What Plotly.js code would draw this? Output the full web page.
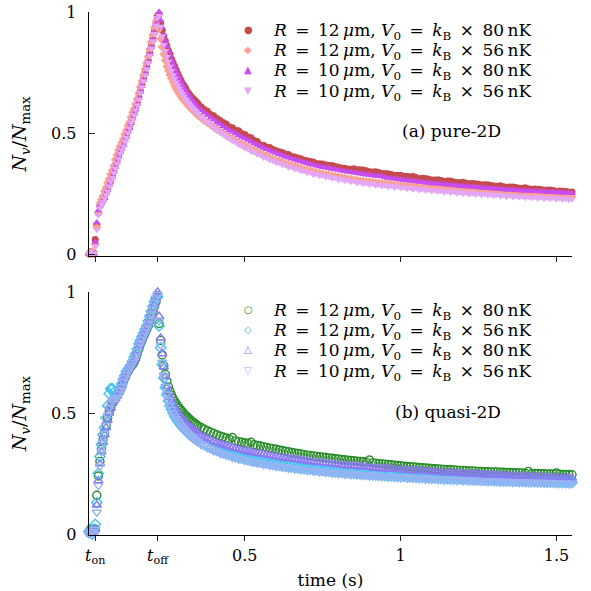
<!DOCTYPE html>
<html>
<head>
<meta charset="utf-8">
<script src="https://cdn.plot.ly/plotly-3.0.1.min.js"></script>
<style>
  html, body { margin: 0; padding: 0; background: #fff; }
  #chart { width: 591px; height: 591px; }
</style>
</head>
<body>
<div id="chart"></div>
<script>
// Sampling times (s), shared by every series
const timeS = [
  0,0.005,0.01,0.015,0.02,0.025,0.03,0.035,0.04,0.045,
  0.05,0.055,0.06,0.065,0.07,0.075,0.08,0.085,0.09,0.095,
  0.1,0.105,0.11,0.115,0.12,0.125,0.13,0.135,0.14,0.145,
  0.15,0.155,0.16,0.165,0.17,0.175,0.18,0.185,0.19,0.195,
  0.2,0.205,0.21,0.215,0.22,0.225,0.23,0.235,0.24,0.245,
  0.25,0.255,0.26,0.265,0.27,0.275,0.28,0.285,0.29,0.295,
  0.3,0.305,0.31,0.315,0.32,0.325,0.33,0.335,0.34,0.345,
  0.35,0.36,0.37,0.38,0.39,0.4,0.41,0.42,0.43,0.44,
  0.45,0.46,0.47,0.48,0.49,0.5,0.51,0.52,0.53,0.54,
  0.55,0.56,0.57,0.58,0.59,0.6,0.61,0.62,0.63,0.64,
  0.65,0.66,0.67,0.68,0.69,0.7,0.71,0.72,0.73,0.74,
  0.75,0.76,0.77,0.78,0.79,0.8,0.81,0.82,0.83,0.84,
  0.85,0.86,0.87,0.88,0.89,0.9,0.91,0.92,0.93,0.94,
  0.95,0.96,0.97,0.98,0.99,1,1.01,1.02,1.03,1.04,
  1.05,1.06,1.07,1.08,1.09,1.1,1.11,1.12,1.13,1.14,
  1.15,1.16,1.17,1.18,1.19,1.2,1.21,1.22,1.23,1.24,
  1.25,1.26,1.27,1.28,1.29,1.3,1.31,1.32,1.33,1.34,
  1.35,1.36,1.37,1.38,1.39,1.4,1.41,1.42,1.43,1.44,
  1.45,1.46,1.47,1.48,1.49,1.5,1.51,1.52,1.53,1.54,
  1.55
];

// (a) pure-2D : N_v / N_max
const pureR12V80 = [
  0,0.01,0,0.005,0.06,0.12,0.17,0.2,0.215,0.225,
  0.235,0.255,0.27,0.29,0.305,0.325,0.345,0.37,0.385,0.405,
  0.425,0.44,0.455,0.475,0.49,0.51,0.525,0.545,0.565,0.585,
  0.6,0.625,0.65,0.675,0.7,0.725,0.75,0.775,0.8,0.83,
  0.86,0.89,0.92,0.955,0.985,0.99,0.955,0.925,0.9,0.88,
  0.86,0.84,0.825,0.805,0.79,0.775,0.76,0.745,0.73,0.718,
  0.705,0.695,0.685,0.672,0.663,0.655,0.647,0.641,0.634,0.627,
  0.621,0.609,0.597,0.59,0.577,0.571,0.56,0.553,0.543,0.537,
  0.526,0.522,0.512,0.509,0.498,0.494,0.484,0.481,0.469,0.465,
  0.451,0.45,0.441,0.44,0.432,0.427,0.423,0.42,0.413,0.411,
  0.403,0.401,0.397,0.394,0.388,0.386,0.382,0.38,0.373,0.373,
  0.372,0.368,0.366,0.366,0.362,0.359,0.356,0.355,0.351,0.35,
  0.352,0.348,0.348,0.347,0.344,0.34,0.339,0.34,0.337,0.333,
  0.333,0.332,0.329,0.325,0.326,0.326,0.321,0.32,0.319,0.32,
  0.316,0.311,0.313,0.312,0.309,0.306,0.306,0.307,0.304,0.3,
  0.302,0.302,0.298,0.296,0.295,0.297,0.293,0.29,0.291,0.29,
  0.288,0.285,0.286,0.286,0.283,0.281,0.28,0.282,0.278,0.276,
  0.277,0.277,0.275,0.272,0.272,0.274,0.27,0.268,0.269,0.268,
  0.267,0.264,0.265,0.265,0.263,0.26,0.261,0.26,0.258,0.256,
  0.256
];
const pureR12V56 = [
  0,0,0.01,0,0.04,0.11,0.17,0.21,0.225,0.24,
  0.26,0.275,0.295,0.31,0.33,0.345,0.365,0.39,0.41,0.43,
  0.445,0.46,0.475,0.495,0.51,0.53,0.545,0.565,0.585,0.6,
  0.62,0.64,0.665,0.69,0.715,0.74,0.765,0.79,0.815,0.845,
  0.875,0.905,0.935,0.96,0.97,0.93,0.89,0.855,0.825,0.8,
  0.775,0.757,0.74,0.725,0.71,0.695,0.684,0.673,0.662,0.652,
  0.643,0.635,0.627,0.619,0.612,0.605,0.598,0.592,0.586,0.58,
  0.572,0.562,0.551,0.543,0.533,0.524,0.515,0.507,0.499,0.491,
  0.483,0.475,0.468,0.461,0.453,0.447,0.44,0.434,0.427,0.421,
  0.415,0.409,0.404,0.398,0.393,0.388,0.383,0.379,0.374,0.37,
  0.366,0.362,0.358,0.354,0.35,0.347,0.344,0.34,0.337,0.334,
  0.331,0.328,0.326,0.323,0.321,0.318,0.316,0.314,0.311,0.309,
  0.307,0.305,0.303,0.301,0.299,0.298,0.296,0.294,0.293,0.291,
  0.29,0.288,0.287,0.285,0.284,0.283,0.281,0.28,0.279,0.278,
  0.277,0.275,0.274,0.273,0.272,0.271,0.27,0.269,0.268,0.267,
  0.266,0.265,0.264,0.263,0.262,0.261,0.26,0.259,0.258,0.257,
  0.257,0.256,0.255,0.254,0.253,0.253,0.252,0.251,0.25,0.25,
  0.249,0.248,0.248,0.247,0.246,0.246,0.245,0.244,0.244,0.243,
  0.243,0.242,0.241,0.241,0.24,0.24,0.239,0.238,0.238,0.237,
  0.237
];
const pureR10V80 = [
  0,0,0.005,0,0.05,0.13,0.18,0.2,0.21,0.22,
  0.232,0.25,0.265,0.285,0.3,0.32,0.34,0.36,0.38,0.4,
  0.42,0.435,0.45,0.47,0.485,0.505,0.52,0.54,0.56,0.58,
  0.6,0.62,0.645,0.67,0.695,0.72,0.745,0.77,0.795,0.825,
  0.855,0.885,0.915,0.95,0.98,1,0.965,0.935,0.905,0.88,
  0.86,0.838,0.82,0.8,0.783,0.768,0.752,0.737,0.722,0.71,
  0.697,0.686,0.675,0.664,0.654,0.645,0.637,0.63,0.622,0.615,
  0.608,0.594,0.584,0.574,0.563,0.555,0.545,0.537,0.528,0.52,
  0.512,0.505,0.498,0.491,0.484,0.477,0.471,0.464,0.457,0.451,
  0.445,0.438,0.433,0.427,0.422,0.417,0.412,0.407,0.402,0.398,
  0.394,0.39,0.386,0.382,0.378,0.375,0.371,0.368,0.365,0.362,
  0.359,0.357,0.354,0.351,0.349,0.347,0.344,0.342,0.34,0.338,
  0.336,0.334,0.332,0.33,0.328,0.327,0.325,0.323,0.322,0.32,
  0.316,0.314,0.312,0.311,0.309,0.307,0.306,0.304,0.303,0.301,
  0.3,0.298,0.297,0.295,0.294,0.292,0.291,0.29,0.288,0.287,
  0.286,0.285,0.284,0.282,0.281,0.28,0.279,0.278,0.277,0.276,
  0.275,0.274,0.273,0.272,0.271,0.27,0.269,0.268,0.267,0.266,
  0.266,0.265,0.264,0.263,0.262,0.262,0.261,0.26,0.259,0.259,
  0.258,0.257,0.256,0.256,0.255,0.254,0.254,0.253,0.252,0.252,
  0.251
];
const pureR10V56 = [
  0,0.01,0,0,0.03,0.1,0.16,0.19,0.205,0.215,
  0.23,0.245,0.26,0.28,0.3,0.315,0.335,0.355,0.375,0.395,
  0.415,0.43,0.445,0.465,0.48,0.5,0.52,0.54,0.555,0.575,
  0.595,0.615,0.64,0.665,0.69,0.715,0.74,0.765,0.79,0.82,
  0.85,0.88,0.91,0.945,0.975,0.985,0.94,0.9,0.865,0.84,
  0.815,0.795,0.775,0.757,0.74,0.725,0.71,0.697,0.685,0.673,
  0.662,0.652,0.642,0.632,0.624,0.615,0.607,0.6,0.592,0.585,
  0.578,0.564,0.556,0.543,0.534,0.521,0.514,0.503,0.496,0.485,
  0.479,0.468,0.464,0.452,0.449,0.437,0.436,0.424,0.423,0.411,
  0.41,0.399,0.398,0.389,0.387,0.378,0.377,0.369,0.368,0.359,
  0.36,0.351,0.352,0.343,0.344,0.336,0.337,0.329,0.331,0.324,
  0.326,0.317,0.32,0.312,0.315,0.307,0.31,0.303,0.305,0.299,
  0.302,0.294,0.298,0.29,0.294,0.287,0.29,0.284,0.287,0.281,
  0.285,0.278,0.282,0.275,0.279,0.273,0.276,0.27,0.274,0.267,
  0.272,0.265,0.269,0.263,0.266,0.261,0.264,0.258,0.262,0.255,
  0.26,0.254,0.258,0.251,0.256,0.249,0.254,0.247,0.252,0.246,
  0.25,0.244,0.248,0.243,0.246,0.241,0.245,0.239,0.243,0.237,
  0.242,0.236,0.24,0.235,0.238,0.233,0.237,0.232,0.236,0.23,
  0.235,0.229,0.233,0.228,0.232,0.226,0.231,0.225,0.229,0.224,
  0.226
];

// (b) quasi-2D : N_v / N_max
const quasiR12V80 = [
  0.01,0.02,0.01,0.02,0.02,0.16,0.24,0.3,0.35,0.39,
  0.42,0.45,0.48,0.505,0.525,0.545,0.555,0.565,0.575,0.585,
  0.6,0.615,0.63,0.645,0.66,0.672,0.683,0.692,0.7,0.71,
  0.725,0.745,0.765,0.785,0.8,0.815,0.83,0.845,0.86,0.88,
  0.9,0.92,0.94,0.96,0.985,0.87,0.8,0.74,0.695,0.66,
  0.632,0.608,0.59,0.574,0.56,0.548,0.538,0.528,0.52,0.512,
  0.505,0.497,0.49,0.484,0.478,0.472,0.466,0.462,0.456,0.452,
  0.447,0.44,0.433,0.427,0.421,0.416,0.41,0.405,0.401,0.397,
  0.392,0.399,0.385,0.382,0.379,0.377,0.374,0.379,0.369,0.366,
  0.364,0.361,0.358,0.355,0.353,0.35,0.347,0.345,0.342,0.34,
  0.337,0.335,0.333,0.331,0.328,0.326,0.325,0.323,0.321,0.319,
  0.317,0.316,0.314,0.313,0.311,0.31,0.308,0.307,0.305,0.304,
  0.303,0.301,0.3,0.299,0.297,0.306,0.294,0.293,0.291,0.29,
  0.289,0.287,0.286,0.284,0.283,0.282,0.28,0.279,0.278,0.277,
  0.276,0.275,0.274,0.273,0.272,0.271,0.27,0.269,0.268,0.267,
  0.266,0.266,0.265,0.264,0.263,0.263,0.262,0.261,0.261,0.26,
  0.259,0.259,0.258,0.258,0.257,0.256,0.256,0.255,0.255,0.254,
  0.254,0.253,0.253,0.252,0.252,0.251,0.259,0.25,0.25,0.25,
  0.249,0.249,0.248,0.248,0.248,0.252,0.247,0.246,0.246,0.246,
  0.245
];
const quasiR12V56 = [
  0.01,0.01,0,0.02,0.04,0.13,0.25,0.32,0.37,0.41,
  0.44,0.48,0.53,0.58,0.6,0.6,0.585,0.57,0.575,0.585,
  0.6,0.62,0.64,0.655,0.67,0.68,0.69,0.7,0.715,0.73,
  0.745,0.765,0.785,0.8,0.815,0.83,0.845,0.86,0.88,0.9,
  0.92,0.94,0.96,0.975,0.98,0.86,0.77,0.7,0.645,0.605,
  0.575,0.55,0.53,0.515,0.5,0.488,0.477,0.467,0.458,0.45,
  0.442,0.435,0.428,0.421,0.415,0.409,0.404,0.399,0.394,0.389,
  0.385,0.377,0.37,0.363,0.357,0.351,0.346,0.341,0.336,0.332,
  0.328,0.324,0.32,0.317,0.314,0.311,0.308,0.305,0.302,0.3,
  0.297,0.295,0.293,0.29,0.288,0.286,0.284,0.282,0.28,0.279,
  0.277,0.275,0.274,0.272,0.27,0.269,0.268,0.266,0.265,0.263,
  0.262,0.261,0.26,0.258,0.257,0.256,0.255,0.254,0.253,0.252,
  0.251,0.25,0.249,0.248,0.247,0.246,0.245,0.245,0.244,0.243,
  0.242,0.241,0.241,0.24,0.239,0.238,0.238,0.237,0.236,0.236,
  0.235,0.234,0.234,0.233,0.232,0.232,0.231,0.23,0.23,0.229,
  0.229,0.228,0.228,0.227,0.227,0.226,0.226,0.225,0.225,0.224,
  0.224,0.223,0.223,0.222,0.222,0.222,0.221,0.221,0.22,0.22,
  0.22,0.219,0.219,0.218,0.218,0.218,0.217,0.217,0.217,0.216,
  0.216,0.216,0.215,0.215,0.215,0.214,0.214,0.214,0.213,0.213,
  0.213
];
const quasiR10V80 = [
  0.01,0,0.01,0.01,0.02,0.12,0.22,0.29,0.34,0.38,
  0.41,0.44,0.47,0.5,0.52,0.54,0.55,0.56,0.57,0.585,
  0.6,0.615,0.635,0.65,0.665,0.678,0.69,0.7,0.71,0.72,
  0.735,0.755,0.775,0.795,0.81,0.825,0.84,0.855,0.87,0.89,
  0.91,0.93,0.95,0.975,1,0.9,0.81,0.745,0.69,0.65,
  0.61,0.585,0.565,0.548,0.534,0.522,0.512,0.502,0.494,0.486,
  0.474,0.467,0.46,0.454,0.448,0.442,0.437,0.432,0.427,0.423,
  0.415,0.407,0.4,0.394,0.388,0.383,0.378,0.373,0.369,0.365,
  0.361,0.357,0.354,0.35,0.347,0.344,0.341,0.338,0.336,0.333,
  0.332,0.33,0.327,0.325,0.322,0.32,0.318,0.315,0.313,0.311,
  0.311,0.309,0.307,0.305,0.303,0.301,0.299,0.297,0.296,0.294,
  0.294,0.292,0.291,0.289,0.288,0.286,0.285,0.283,0.282,0.28,
  0.281,0.28,0.278,0.277,0.276,0.275,0.273,0.272,0.271,0.27,
  0.271,0.269,0.268,0.267,0.266,0.265,0.264,0.263,0.262,0.261,
  0.262,0.261,0.26,0.259,0.258,0.257,0.256,0.255,0.254,0.253,
  0.253,0.253,0.252,0.251,0.25,0.25,0.249,0.248,0.248,0.247,
  0.246,0.246,0.245,0.244,0.244,0.243,0.243,0.242,0.241,0.241,
  0.24,0.24,0.239,0.239,0.238,0.238,0.237,0.237,0.236,0.236,
  0.235,0.235,0.234,0.234,0.233,0.233,0.232,0.232,0.231,0.231,
  0.231
];
const quasiR10V56 = [
  0,0.01,0.01,0,0.02,0.09,0.2,0.28,0.34,0.38,
  0.415,0.45,0.49,0.52,0.54,0.55,0.555,0.56,0.565,0.58,
  0.595,0.61,0.63,0.645,0.66,0.672,0.684,0.695,0.708,0.72,
  0.735,0.755,0.775,0.79,0.805,0.82,0.835,0.85,0.87,0.89,
  0.91,0.93,0.955,0.975,0.99,0.88,0.78,0.71,0.655,0.61,
  0.578,0.552,0.532,0.515,0.5,0.487,0.476,0.466,0.457,0.448,
  0.44,0.432,0.425,0.418,0.412,0.406,0.4,0.395,0.39,0.385,
  0.381,0.37,0.366,0.356,0.353,0.344,0.342,0.333,0.332,0.325,
  0.323,0.316,0.316,0.309,0.31,0.303,0.304,0.297,0.299,0.292,
  0.294,0.287,0.289,0.283,0.285,0.279,0.281,0.275,0.277,0.271,
  0.274,0.268,0.27,0.265,0.267,0.262,0.264,0.259,0.262,0.256,
  0.259,0.254,0.257,0.251,0.254,0.249,0.252,0.247,0.25,0.245,
  0.248,0.243,0.246,0.241,0.244,0.239,0.243,0.238,0.241,0.236,
  0.239,0.235,0.238,0.233,0.236,0.232,0.235,0.23,0.234,0.229,
  0.232,0.228,0.231,0.226,0.23,0.225,0.229,0.224,0.227,0.223,
  0.226,0.222,0.225,0.221,0.224,0.22,0.223,0.219,0.222,0.218,
  0.221,0.217,0.22,0.216,0.22,0.215,0.219,0.214,0.218,0.214,
  0.217,0.213,0.216,0.212,0.216,0.211,0.215,0.211,0.214,0.21,
  0.214,0.209,0.213,0.209,0.212,0.208,0.212,0.207,0.211,0.207,
  0.21
];

// Axis ticks
const timeTickVals = [0.02, 0.22, 0.5, 1, 1.5];
const timeTickText = ['<i>t</i><sub>on</sub>', '<i>t</i><sub>off</sub>', '0.5', '1', '1.5'];
const nTickVals = [0, 0.5, 1];
const nTickText = ['0', '0.5', '1'];

// Legend labels (math spacing around relations and operators)
const EN = '\u2002', THIN = '\u2009';
const seriesLabels = [
  ['12', '80'], ['12', '56'], ['10', '80'], ['10', '56']
].map(([r, v]) =>
  `<i>R</i>${EN}=${EN}${r}${THIN}<i>μ</i>m, <i>V</i><sub>0</sub>${EN}=${EN}<i>k</i><sub>B</sub>${EN}×${EN}${v}${THIN}nK`);
const panelLabels = ['(a) pure-2D', '(b) quasi-2D'];
const yTitle = '<i>N</i><sub><i>v</i></sub>/<i>N</i><sub>max</sub>';

const pureSeries = [pureR12V80, pureR12V56, pureR10V80, pureR10V56];
const quasiSeries = [quasiR12V80, quasiR12V56, quasiR10V80, quasiR10V56];
const pureColors = ['#c64a4c', '#f9a294', '#c94cf2', '#e3a6f8'];
const quasiColors = ['#2a8c2a', '#3ec2f2', '#8a7af4', '#98b2f2'];
const pureSymbols = ['circle', 'diamond', 'triangle-up', 'triangle-down'];
const quasiSymbols = ['circle-open', 'diamond-open', 'triangle-up-open', 'triangle-down-open'];
const pureKeys = ['●', '◆', '▲', '▼'];
const quasiKeys = ['○', '◇', '△', '▽'];

const traces = [];
pureSeries.forEach((vals, i) => {
  traces.push({
    type: 'scatter', mode: 'markers', x: timeS, y: vals,
    xaxis: 'x', yaxis: 'y', name: seriesLabels[i], showlegend: false,
    cliponaxis: false,
    marker: {symbol: pureSymbols[i], size: 7, color: pureColors[i], line: {width: 0}}
  });
});
quasiSeries.forEach((vals, i) => {
  traces.push({
    type: 'scatter', mode: 'markers', x: timeS, y: vals,
    xaxis: 'x2', yaxis: 'y2', name: seriesLabels[i], showlegend: false,
    cliponaxis: false,
    marker: {symbol: quasiSymbols[i], size: 8, color: quasiColors[i], line: {width: 1.4, color: quasiColors[i]}}
  });
});

// Plot-area geometry (px) used to place the keys
const M = {l: 89, r: 19, t: 12, b: 56};
const W = 591, H = 591;
const plotW = W - M.l - M.r, plotH = H - M.t - M.b;
const px2x = px => (px - M.l) / plotW;
const px2y = py => (H - M.b - py) / plotH;

const FONT = 'DejaVu Serif, Liberation Serif, serif';
const SYMFONT = 'DejaVu Sans, sans-serif';

function keyAnnotations(keys, colors, firstRowPx) {
  const out = [];
  keys.forEach((k, i) => {
    const py = firstRowPx + i * 20.4;
    out.push({text: k, xref: 'paper', yref: 'paper', x: px2x(248), y: px2y(py),
      xanchor: 'center', yanchor: 'middle', showarrow: false,
      font: {family: SYMFONT, size: 10, color: colors[i]}});
    out.push({text: seriesLabels[i], xref: 'paper', yref: 'paper', x: px2x(271), y: px2y(py + 2),
      xanchor: 'left', yanchor: 'middle', showarrow: false,
      font: {family: FONT, size: 17, color: 'black'}});
  });
  return out;
}

const baseX = {
  range: [0, 1.55], tickvals: timeTickVals, ticktext: timeTickText,
  ticks: 'outside', ticklen: 5, tickwidth: 1, tickcolor: '#222',
  showline: true, linecolor: 'black', linewidth: 1.3,
  showgrid: false, zeroline: false, fixedrange: true,
  tickfont: {family: FONT, size: 16, color: 'black'}
};
const baseY = {
  tickvals: nTickVals, ticktext: nTickText,
  ticks: 'inside', ticklen: 6, tickwidth: 1, tickcolor: '#222',
  showline: true, linecolor: 'black', linewidth: 1.3,
  showgrid: false, zeroline: false, fixedrange: true,
  ticklabelstandoff: 8,
  tickfont: {family: FONT, size: 16, color: 'black'},
  title: {text: yTitle, standoff: 19, font: {family: FONT, size: 19, color: 'black'}}
};

const layout = {
  width: W, height: H,
  margin: M,
  paper_bgcolor: 'white', plot_bgcolor: 'white',
  font: {family: FONT, size: 16, color: 'black'},
  showlegend: false,
  xaxis: Object.assign({}, baseX, {anchor: 'y', showticklabels: false}),
  yaxis: Object.assign({}, baseY, {domain: [px2y(256), 1], range: [-0.008, 1], anchor: 'x'}),
  xaxis2: Object.assign({}, baseX, {anchor: 'y2',
    title: {text: 'time (s)', standoff: 8, font: {family: FONT, size: 17, color: 'black'}}}),
  yaxis2: Object.assign({}, baseY, {domain: [0, px2y(292)], range: [-0.004, 1], anchor: 'x2'}),
  annotations: [
    {text: panelLabels[0], xref: 'paper', yref: 'paper', x: px2x(503), y: px2y(131),
     xanchor: 'right', yanchor: 'middle', showarrow: false,
     font: {family: FONT, size: 17, color: 'black'}},
    {text: panelLabels[1], xref: 'paper', yref: 'paper', x: px2x(503), y: px2y(412),
     xanchor: 'right', yanchor: 'middle', showarrow: false,
     font: {family: FONT, size: 17, color: 'black'}}
  ].concat(keyAnnotations(pureKeys, pureColors, 29), keyAnnotations(quasiKeys, quasiColors, 309))
};

Plotly.newPlot('chart', traces, layout, {displayModeBar: false, staticPlot: true});
</script>
</body>
</html>
